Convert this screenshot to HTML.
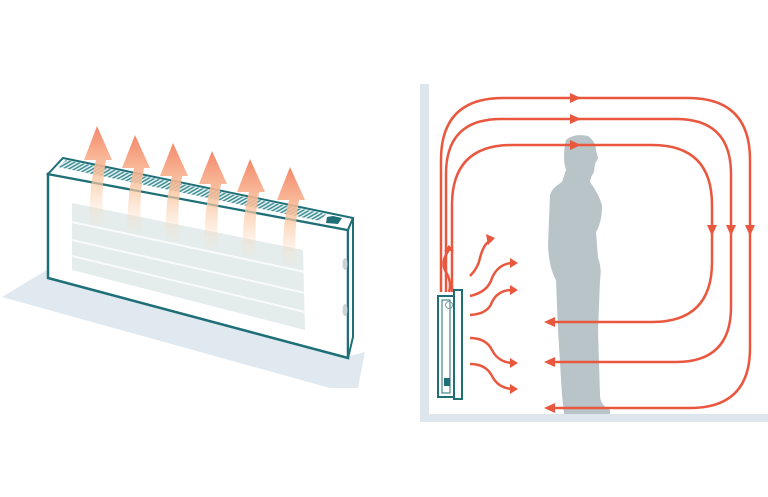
<!DOCTYPE html>
<html><head><meta charset="utf-8"><style>html,body{margin:0;padding:0;background:#fff}svg{display:block}</style></head>
<body>
<svg width="768" height="497" viewBox="0 0 768 497" xmlns="http://www.w3.org/2000/svg">
<defs>
<linearGradient id="ag" x1="0" y1="0" x2="0" y2="1">
<stop offset="0" stop-color="#f4876a"/><stop offset="0.45" stop-color="#f9c09a" stop-opacity="0.85"/><stop offset="1" stop-color="#fde6c8" stop-opacity="0"/>
</linearGradient>
<pattern id="hatch" width="3" height="3" patternUnits="userSpaceOnUse" patternTransform="rotate(60)">
<rect width="3" height="3" fill="#e6f1f1"/><rect width="1.5" height="3" fill="#3f8f96"/>
</pattern>
</defs>
<polygon points="2,297 50,268 350,356 365,352 358,388 330,388" fill="#e0e9f0"/>
<polygon points="48,174 348,230 348,358 48,278" fill="#fff" stroke="#1f6f78" stroke-width="2.5"/>
<polygon points="48,174 63,158 353,218 348,230" fill="#fff" stroke="#1f6f78" stroke-width="2"/>
<polygon points="348,230 353,218 353,337 348,358" fill="#fff" stroke="#1f6f78" stroke-width="2"/>
<polygon points="58,167 66,160 326,214 320,221" fill="url(#hatch)"/>
<polygon points="327,217 333,216 342,218 338,224 326,223" fill="#1f6f78"/>
<ellipse cx="345" cy="264" rx="2.5" ry="6" fill="#ccd4d8"/>
<ellipse cx="345" cy="310" rx="2.5" ry="6" fill="#ccd4d8"/>
<polygon points="72,203 303,250 305,330 72,270" fill="#e4ecec"/>
<g stroke="#fff" stroke-width="2" opacity="0.8">
<line x1="72" y1="222" x2="305" y2="272"/><line x1="72" y1="240" x2="305" y2="293"/><line x1="72" y1="256" x2="305" y2="312"/>
</g>
<g fill="url(#ag)">
<path d="M90,230 Q88,190 96,160 L84,160 L97,126 L112,160 L106,160 Q100,195 104,230 Z"/>
<path d="M128,238 Q126,198 134,168 L122,168 L135,135 L150,168 L144,168 Q138,203 142,238 Z"/>
<path d="M166,246 Q164,206 172,176 L160,176 L173,143 L188,176 L182,176 Q176,211 180,246 Z"/>
<path d="M205,254 Q203,214 211,184 L199,184 L212,151 L227,184 L221,184 Q215,219 219,254 Z"/>
<path d="M243,262 Q241,222 249,192 L237,192 L250,159 L265,192 L259,192 Q253,227 257,262 Z"/>
<path d="M283,270 Q281,230 289,200 L277,200 L290,167 L305,200 L299,200 Q293,235 297,270 Z"/>
</g>
<rect x="420" y="84" width="9" height="338" fill="#dde6ec"/>
<rect x="420" y="414" width="348" height="8" fill="#dde6ec"/>
<path d="M566,140 Q574,133 588,136 Q596,142 596,150 L598,158 L595,164 L594,172 Q590,178 590,182 Q600,196 602,206 Q602,222 596,232 L598,258 Q602,268 600,280 L598,330 L600,395 Q600,405 610,410 L610,414 L564,414 L562,395 L558,330 L556,280 Q549,268 548,245 L550,195 Q552,188 562,182 L566,170 Q562,158 566,140 Z" fill="#b8c4c7"/>
<g fill="none" stroke="#e9573f" stroke-width="2.5">
<path d="M441,292 L441,160 Q441,98 503,98 L688,98 Q750,98 750,160 L750,348 Q750,408 690,408 L548,408"/>
<path d="M446,292 L446,174 Q446,119 501,119 L676,119 Q731,119 731,174 L731,307 Q731,362 676,362 L548,362"/>
<path d="M452,292 L452,205 Q452,145 512,145 L652,145 Q712,145 712,205 L712,262 Q712,322 652,322 L548,322"/>
<path d="M470,276 Q478,268 480,258 Q484,242 492,240"/>
<path d="M470,296 Q488,292 492,278 Q498,264 512,263"/>
<path d="M470,315 Q488,314 492,302 Q498,290 512,290"/>
<path d="M470,338 Q486,338 492,350 Q498,362 512,363"/>
<path d="M470,364 Q486,364 492,376 Q498,388 512,389"/>
<path d="M449,250 Q440,262 446,272 Q452,282 449,292"/>
</g>
<g fill="#e9573f">
<polygon points="570,93 581,98 570,103"/>
<polygon points="570,114 581,119 570,124"/>
<polygon points="570,140 581,145 570,150"/>
<polygon points="745,225 750,236 755,225"/>
<polygon points="726,225 731,236 736,225"/>
<polygon points="707,225 712,236 717,225"/>
<polygon points="555,403 544,408 555,413"/>
<polygon points="555,357 544,362 555,367"/>
<polygon points="555,317 544,322 555,327"/>
<polygon points="486,234 495,238 488,245"/>
<polygon points="510,258 518,263 510,268"/>
<polygon points="510,285 518,290 510,295"/>
<polygon points="510,358 518,363 510,368"/>
<polygon points="510,384 518,389 510,394"/>
<polygon points="444,251 449,245 454,251"/>
</g>
<rect x="438" y="296" width="16" height="101" fill="#fff" stroke="#1f6f78" stroke-width="2"/>
<rect x="442" y="300" width="8" height="93" fill="none" stroke="#1f6f78" stroke-width="1"/>
<rect x="454" y="290" width="8" height="109" fill="#fff" stroke="#1f6f78" stroke-width="2"/>
<circle cx="449" cy="305" r="3.5" fill="none" stroke="#7a9da2" stroke-width="1"/>
<rect x="444" y="378" width="6" height="8" fill="#1f6f78"/>
</svg>
</body></html>
